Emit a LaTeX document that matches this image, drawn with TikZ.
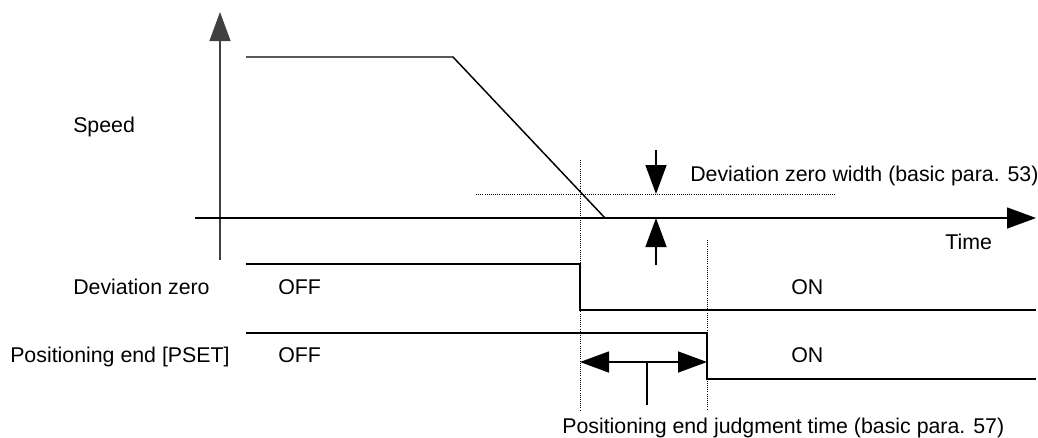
\documentclass[tikz,border=0pt]{standalone}
\usepackage{fontspec}
\setmainfont{Liberation Sans}
\usetikzlibrary{arrows.meta}
\usetikzlibrary{positioning}
\tikzstyle{arr}=[-{Triangle[length=21.75pt,width=15.75pt]},draw=black]
\tikzstyle{dblarr}=[{Triangle[length=21.75pt,width=15.75pt]}-{Triangle[length=21.75pt,width=15.75pt]},draw=black]
\tikzstyle{sig}=[draw=black,line width=1.1pt]
\tikzstyle{guide}=[draw=black,densely dotted,line width=0.6pt]
\tikzstyle{lbl}=[anchor=base west,inner sep=0pt,font=\fontsize{16pt}{19pt}\selectfont]

\begin{document}
\begin{tikzpicture}[x=0.75pt,y=-0.75pt]
    \useasboundingbox (0,0) rectangle (1038,437);
    % axes
    \coordinate (Y0) at (220,260);
    \coordinate (Y1) at (220,12);
    \coordinate (T0) at (195,218);
    \coordinate (T1) at (1036,218);
    \draw[arr,line width=0.9pt,draw=black!75] (Y0) -- (Y1);
    \draw[arr,line width=1pt] (T0) -- (T1);
    % speed profile
    \coordinate (S0) at (246,57);
    \coordinate (S1) at (453,57);
    \coordinate (S2) at (605,218);
    \draw[sig] (S0) -- (S1) -- (S2);
    % guide lines
    \coordinate (W0) at (476,194);
    \coordinate (W1) at (835,194);
    \coordinate (G0) at (580,160);
    \coordinate (G1) at (580,410);
    \coordinate (H0) at (707,240);
    \coordinate (H1) at (707,410);
    \draw[guide] (W0) -- (W1);
    \draw[guide] (G0) -- (G1);
    \draw[guide] (H0) -- (H1);
    % deviation zero width
    \coordinate (A0) at (656,150);
    \coordinate (A1) at (656,194);
    \coordinate (B0) at (656,265);
    \coordinate (B1) at (656,218);
    \draw[arr,line width=1.1pt] (A0) -- (A1);
    \draw[arr,line width=1.1pt] (B0) -- (B1);
    % deviation zero signal
    \coordinate (D0) at (246,264);
    \coordinate (D1) at (580,264);
    \coordinate (D2) at (580,310);
    \coordinate (D3) at (1036,310);
    \draw[sig] (D0) -- (D1) -- (D2) -- (D3);
    % positioning end signal
    \coordinate (P0) at (246,333);
    \coordinate (P1) at (707,333);
    \coordinate (P2) at (707,379);
    \coordinate (P3) at (1036,379);
    \draw[sig] (P0) -- (P1) -- (P2) -- (P3);
    % judgment time
    \coordinate (J0) at (580,362);
    \coordinate (J1) at (707,362);
    \coordinate (JM) at (647,362);
    \coordinate (JL) at (647,405);
    \draw[dblarr,line width=1.1pt] (J0) -- (J1);
    \draw[sig] (JM) -- (JL);
    % labels
    \node[lbl] (speed) at (73,132) {Speed};
    \node[lbl] (time) at (945,249) {Time};
    \node[lbl] (width) at (690,181) {Deviation zero width (basic para. 53)};
    \node[lbl] (dz) at (73,294) {Deviation zero};
    \node[lbl] (dzoff) at (278,294) {OFF};
    \node[lbl] (dzon) at (791,294) {ON};
    \node[lbl] (pset) at (10,362) {Positioning end [PSET]};
    \node[lbl] (psoff) at (278,362) {OFF};
    \node[lbl] (pson) at (791,362) {ON};
    \node[lbl] (judge) at (562,433) {Positioning end judgment time (basic para. 57)};
\end{tikzpicture}
\end{document}
